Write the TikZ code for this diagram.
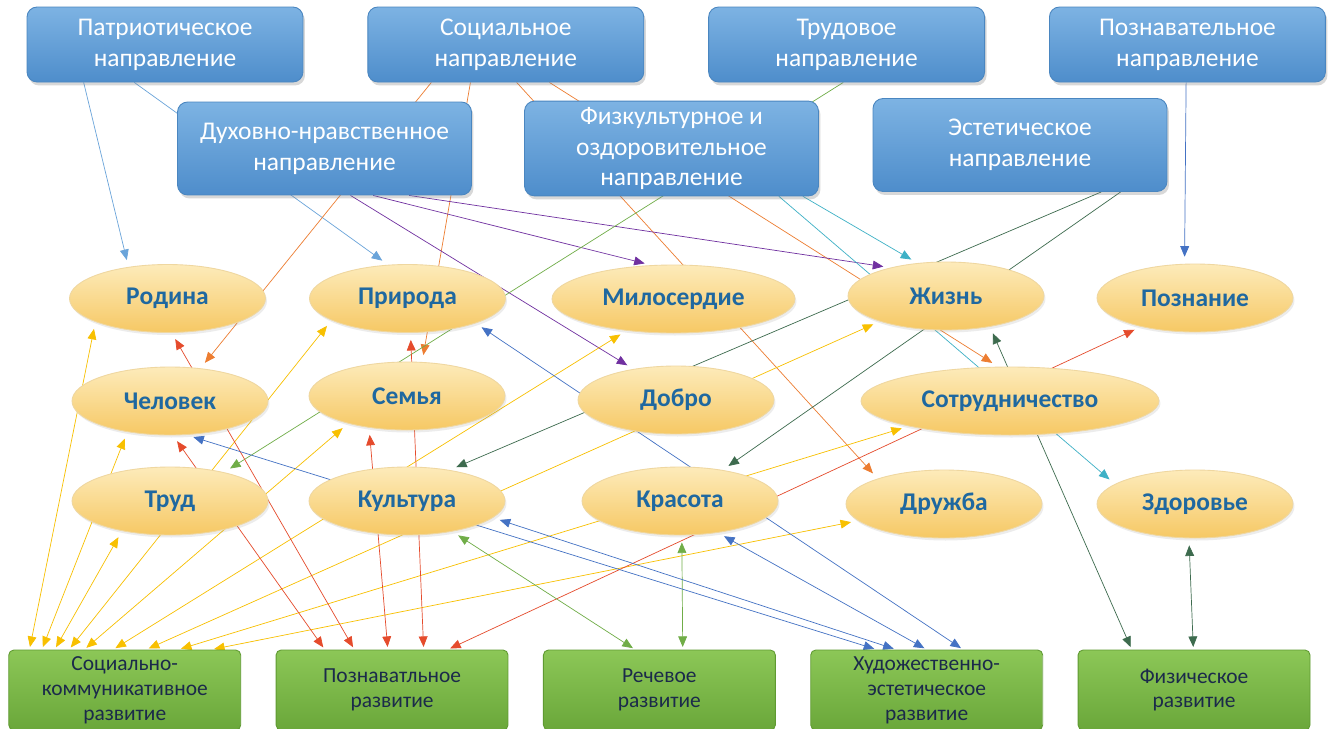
\documentclass[tikz,border=0pt]{standalone}
\usepackage{fontspec}
\setmainfont{Carlito}
\usepackage{xcolor}
\definecolor{Box Blue Top}{HTML}{7DB3E3}
\definecolor{Box Blue Bottom}{HTML}{4E8DCB}
\definecolor{Box Blue Line}{HTML}{4A86C0}
\definecolor{Cream Top}{HTML}{FDEBBA}
\definecolor{Cream Bottom}{HTML}{F6C864}
\definecolor{Cream Line}{HTML}{EFD7A0}
\definecolor{Value Text}{HTML}{1F68A0}
\definecolor{Grass Top}{HTML}{8CC757}
\definecolor{Grass Bottom}{HTML}{6AA73A}
\definecolor{Grass Line}{HTML}{5F9A31}
\definecolor{Area Text}{HTML}{1B2A4A}
\colorlet{cLightBlue}{Box Blue Top!60!Box Blue Bottom}
\definecolor{cOrange}{HTML}{ED7D31}
\definecolor{cPurple}{HTML}{7030A0}
\definecolor{cGreen}{HTML}{70AD47}
\definecolor{cTeal}{HTML}{3EB1C6}
\definecolor{cDarkGreen}{HTML}{3D6B4E}
\definecolor{cYellow}{HTML}{F8C000}
\definecolor{cRed}{HTML}{E54B2C}
\definecolor{cBlue}{HTML}{4472C4}
\usepackage{tikz}
\usetikzlibrary{positioning, arrows.meta, backgrounds, shapes.geometric, shadows}
\newcommand{\dirfont}{\fontsize{14.5}{17.6}\selectfont}
\newcommand{\valfont}{\fontsize{14.5}{17}\selectfont\bfseries}
\newcommand{\areafont}{\fontsize{12.2}{14.2}\selectfont}
\tikzset{
	node distance = 1.28cm,
	line width = 1.15pt,
	>={Triangle[length=6pt,width=5pt]},
	direction/.style={
		rounded corners=0.2cm,
		top color=Box Blue Top,
		bottom color=Box Blue Bottom,
		draw=Box Blue Line,
		line width=.5pt,
		text=white,
		align=center,
		font=\dirfont,
		minimum width=5.52cm,
		minimum height=1.5cm,
		drop shadow={opacity=.3, shadow xshift=.04cm, shadow yshift=-.07cm}
	},
	wide direction/.style={
		direction,
		minimum width=5.88cm,
		minimum height=1.86cm
	},
	value/.style={
		ellipse,
		top color=Cream Top,
		bottom color=Cream Bottom,
		draw=Cream Line,
		line width=.5pt,
		text=Value Text,
		font=\valfont,
		inner sep=0pt,
		minimum width=3.92cm,
		minimum height=1.36cm,
		drop shadow={opacity=.15, shadow xshift=.03cm, shadow yshift=-.05cm}
	},
	area/.style={
		rounded corners=0.1cm,
		top color=Grass Top,
		bottom color=Grass Bottom,
		draw=Grass Line,
		line width=.5pt,
		text=Area Text,
		align=center,
		font=\areafont,
		minimum width=4.64cm,
		minimum height=1.6cm
	},
	link/.style={
		->,
		shorten >=4pt
	},
	dlink/.style={
		<->,
		shorten <=4pt,
		shorten >=1.5pt
	}
}

\begin{document}
\begin{tikzpicture}[x=0.02cm, y=-0.02cm]
\useasboundingbox (0,0) rectangle (1330,728);
% ---
% directions
% ---
\node[direction] at (165,44.5) (patr) {Патриотическое\\направление};
\node[direction, right=of patr] (soc) {Социальное\\направление};
\node[direction, right=of soc] (trudN) {Трудовое\\направление};
\node[direction, right=of trudN] (poznN) {Познавательное\\направление};
\node[wide direction] at (324.5,148.5) (dukh) {Духовно-нравственное\\направление};
\node[wide direction] at (671.5,148.5) (fizk) {Физкультурное и\\оздоровительное\\направление};
\node[wide direction] at (1020,145) (estet) {Эстетическое\\направление};

% ---
% values
% ---
\node[value] at (167.5,298.5) (rodina) {Родина};
\node[value] at (407.5,298.5) (priroda) {Природа};
\node[value, minimum width=4.86cm] at (673.5,299) (miloserdie) {Милосердие};
\node[value] at (946,296) (zhizn) {Жизнь};
\node[value] at (1195,298) (poznanie) {Познание};
\node[value] at (170,401) (chelovek) {Человек};
\node[value] at (407,396) (semya) {Семья};
\node[value] at (676,400) (dobro) {Добро};
\node[value, minimum width=5.96cm] at (1010,401) (sotrud) {Сотрудничество};
\node[value] at (170,501) (trud) {Труд};
\node[value] at (407,501) (kultura) {Культура};
\node[value] at (680,501) (krasota) {Красота};
\node[value] at (944,504) (druzhba) {Дружба};
\node[value] at (1195,504) (zdorovye) {Здоровье};

% ---
% areas
% ---
\node[area] at (124.75,690) (socKom) {Социально-\\коммуникативное\\развитие};
\node[area, right=0.69cm of socKom] (poznR) {Познаватльное\\развитие};
\node[area, right=0.69cm of poznR] (rech) {Речевое\\развитие};
\node[area, right=0.69cm of rech] (khud) {Художественно-\\эстетическое\\развитие};
\node[area, right=0.69cm of khud] (fizR) {Физическое\\развитие};

\begin{scope}[on background layer]
\fill[white] (0,0) rectangle (1330,728);

% directions to values
\draw[link, cLightBlue] (patr.205) to (rodina.141);
\draw[link, cLightBlue] (patr.231) to (priroda.120);
\draw[link, cOrange] (soc.207) to (chelovek.47);
\draw[link, cOrange] (soc.227) to (semya.66);
\draw[link, cOrange] (soc.286) to (druzhba.159);
\draw[link, cOrange] (soc.319) to (sotrud.109);
\draw[link, cPurple] (dukh.299) to (dobro.144);
\draw[link, cPurple] (dukh.316) to (miloserdie.123);
\draw[link, cPurple] (dukh.331) to (zhizn.153);
\draw[link, cGreen] (trudN.265) to (trud.28);
\draw[link, cTeal] (fizk.336) to (zdorovye.166);
\draw[link, cTeal] (fizk.340) to (zhizn.131);
\draw[link, cDarkGreen] (estet.330) to (kultura.36);
\draw[link, cDarkGreen] (estet.335) to (krasota.36);
\draw[link, cBlue] (poznN.268) to (poznanie.107);

% values and areas
\draw[dlink, cYellow] (rodina.198) to (socKom.157.6);
\draw[dlink, cYellow] (chelovek.216) to (socKom.154.5);
\draw[dlink, cYellow] (trud.212) to (socKom.150);
\draw[dlink, cYellow] (priroda.196) to (socKom.144.9);
\draw[dlink, cYellow] (semya.205) to (socKom.135.1);
\draw[dlink, cYellow] (miloserdie.214) to (socKom.106.5);
\draw[dlink, cYellow] (zhizn.201) to (socKom.62.4);
\draw[dlink, cYellow] (sotrud.194) to (socKom.37.8);
\draw[dlink, cYellow] (druzhba.191) to (socKom.25);

\draw[dlink, cRed] (chelovek.275) to (poznR.149.6);
\draw[dlink, cRed] (rodina.277) to (poznR.133.4);
\draw[dlink, cRed] (priroda.275) to (poznR.52.7);
\draw[dlink, cRed] (semya.220) to (poznR.96.1);
\draw[dlink, cRed] (poznanie.208) to (poznR.36);

\draw[dlink, cGreen] (kultura.326) to (rech.121);
\draw[dlink, cGreen] (krasota.273) to (rech.60);

\draw[dlink, cBlue] (chelovek.296) to (khud.141);
\draw[dlink, cBlue] (kultura.349) to (khud.127.5);
\draw[dlink, cBlue] (krasota.320) to (khud.90);
\draw[dlink, cBlue] (priroda.340) to (khud.48);

\draw[dlink, cDarkGreen] (zhizn.325) to (fizR.147.7);
\draw[dlink, cDarkGreen] (zdorovye.260) to (fizR.91);
\end{scope}
\end{tikzpicture}
\end{document}
